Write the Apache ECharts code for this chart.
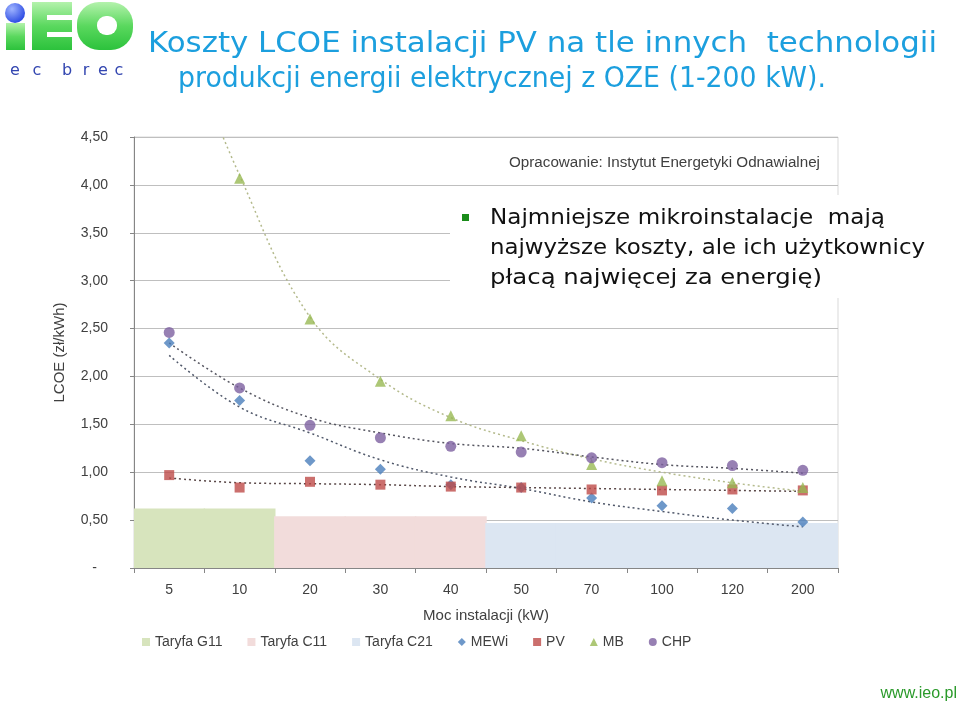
<!DOCTYPE html>
<html><head><meta charset="utf-8">
<script src="https://cdn.jsdelivr.net/npm/echarts@6/dist/echarts.min.js"></script>
<style>html,body{margin:0;padding:0;background:#fff}#c{width:960px;height:706px}</style>
</head><body><div id="c"></div>
<script>
const categories = ['5','10','20','30','40','50','70','100','120','200'];
const tariffG11 = [0.62,0.62,null,null,null,null,null,null,null,null];
const tariffC11 = [null,null,0.54,0.54,0.54,null,null,null,null,null];
const tariffC21 = [null,null,null,null,null,0.47,0.47,0.47,0.47,0.47];
const mewi = [2.35,1.75,1.12,1.03,0.87,0.84,0.73,0.65,0.62,0.48];
const pv   = [0.97,0.84,0.90,0.87,0.85,0.84,0.82,0.81,0.82,0.81];
const mb   = [null,4.07,2.60,1.95,1.59,1.38,1.08,0.91,0.89,0.84];
const chp  = [2.46,1.88,1.49,1.36,1.27,1.21,1.15,1.10,1.07,1.02];
const mewiTrend = [2.22,1.68,1.41,1.13,0.95,0.83,0.69,0.59,0.50,0.43];
const pvTrend   = [0.94,0.89,0.88,0.87,0.85,0.84,0.83,0.82,0.81,0.80];
const mbTrend   = [5.9,4.10,2.62,1.97,1.57,1.33,1.14,1.00,0.89,0.80];
const chpTrend  = [2.35,1.88,1.57,1.41,1.30,1.25,1.16,1.08,1.04,0.99];

const titleLines = ['Koszty LCOE instalacji PV na tle innych  technologii','produkcji energii elektrycznej z OZE (1-200 kW).'];
const bulletLines = ['Najmniejsze mikroinstalacje  mają','najwyższe koszty, ale ich użytkownicy','płacą najwięcej za energię)'];
const sourceText = 'Opracowanie: Instytut Energetyki Odnawialnej';
const logoLetters = ['e','c','b','r','e','c'];
const logoLetterX = [15,37,67,86,103,119];

const ctx = document.createElement('canvas').getContext('2d');
function fitText(text, x, y, font, fill, targetW, z){
  ctx.font = font;
  const w = ctx.measureText(text).width;
  return {type:'text', x:x, y:y, scaleX: targetW / w,
    style:{text:text, font:font, fill:fill, verticalAlign:'middle'}, z:z||100};
}

const chart = echarts.init(document.getElementById('c'));
const F = 'Liberation Sans';
const green = {type:'linear',x:0,y:0,x2:0,y2:1,colorStops:[{offset:0,color:'#b4f2ac'},{offset:0.5,color:'#5ad85e'},{offset:1,color:'#2cc23c'}]};
const graphics = [
  {type:'circle',shape:{cx:15,cy:13,r:10},style:{fill:{type:'radial',x:0.35,y:0.3,r:0.8,colorStops:[{offset:0,color:'#9fb4ff'},{offset:1,color:'#2040e0'}]}},z:100},
  {type:'rect',shape:{x:6,y:23,width:19,height:27},style:{fill:green},z:100},
  {type:'polygon',shape:{points:[[32,2],[72,2],[72,15],[47,15],[47,20],[72,20],[72,32],[47,32],[47,37],[72,37],[72,50],[32,50]]},style:{fill:green},z:100},
  {type:'rect',shape:{x:77,y:2,width:56,height:48,r:22},style:{fill:green},z:100},
  {type:'rect',shape:{x:97,y:16,width:20,height:19,r:9},style:{fill:'#fff'},z:101},
  fitText(titleLines[0],148,45,'28px "DejaVu Sans"','#1c9fde',789),
  fitText(titleLines[1],178,80,'28px "DejaVu Sans"','#1c9fde',648),
  fitText(sourceText,509,163,'14px "Liberation Sans"','#404040',311),
  {type:'rect',shape:{x:450,y:195,width:400,height:103},style:{fill:'#fff'},z:100},
  {type:'rect',shape:{x:462,y:214,width:7,height:7},style:{fill:'#1a8c1a'},z:101},
  {type:'text',x:957,y:694,style:{text:'www.ieo.pl',font:'16px "Liberation Sans"',fill:'#2a9a2a',align:'right',verticalAlign:'middle'},z:100}
];
const bulletW = [395,435,332];
bulletLines.forEach((t,i)=>graphics.push(fitText(t,490,219+i*30,'21px "DejaVu Sans"','#111',bulletW[i],101)));
logoLetters.forEach((t,i)=>graphics.push({type:'text',x:logoLetterX[i],y:71,style:{text:t,font:'16px "DejaVu Sans"',fill:'#3346b0',align:'center',verticalAlign:'middle'},z:100}));

function trend(name,data,color){
  return {name:name+' trend',type:'line',data:data,smooth:0.4,showSymbol:false,symbol:'none',silent:true,
    lineStyle:{type:[2,3],width:1.5,color:color},z:3,clip:true};
}
function tariff(name,data,color,zz){
  return {name:name,type:'bar',stack:'t',barWidth:'102%',data:data,
    itemStyle:{color:color},z:zz};
}

chart.setOption({
  animation:false,
  graphic:graphics,
  grid:{left:134,right:122,top:137,bottom:138,show:true,borderColor:'#d9d9d9',borderWidth:1},
  legend:{left:137,top:630,itemWidth:8,itemHeight:8,itemGap:25,
    textStyle:{fontFamily:F,fontSize:14,color:'#404040'},
    data:[{name:'Taryfa G11',icon:'rect'},{name:'Taryfa C11',icon:'rect'},{name:'Taryfa C21',icon:'rect'},
      {name:'MEWi',icon:'diamond'},{name:'PV',icon:'rect'},{name:'MB',icon:'triangle'},{name:'CHP',icon:'circle'}]},
  xAxis:{type:'category',data:categories,boundaryGap:true,
    name:'Moc instalacji (kW)',nameLocation:'middle',nameGap:40,
    nameTextStyle:{fontFamily:F,fontSize:15,color:'#404040'},
    axisLine:{lineStyle:{color:'#868686'}},
    axisTick:{show:true,length:5,interval:0,lineStyle:{color:'#868686'}},
    axisLabel:{fontFamily:F,fontSize:14,color:'#404040',margin:15},
    splitLine:{show:false}},
  yAxis:{type:'value',min:0,max:4.5,interval:0.5,
    name:'LCOE (zł/kWh)',nameLocation:'middle',nameGap:67,nameRotate:90,
    nameTextStyle:{fontFamily:F,fontSize:15,color:'#404040'},
    axisLine:{show:true,lineStyle:{color:'#868686'}},
    axisTick:{show:true,length:4,lineStyle:{color:'#868686'}},
    axisLabel:{fontFamily:F,fontSize:14,color:'#404040',margin:26,
      formatter:v=>v===0?'{z|-}':v.toFixed(2).replace('.',','),
      rich:{z:{padding:[0,11,0,0],fontFamily:F,fontSize:14,color:'#404040'}}},
    splitLine:{lineStyle:{color:'#bfbfbf'}}},
  series:[
    tariff('Taryfa G11',tariffG11,'#d7e4bd',1),
    tariff('Taryfa C11',tariffC11,'#f2dcdb',1),
    tariff('Taryfa C21',tariffC21,'#dce6f2',1),
    trend('MEWi',mewiTrend,'#50586a'),
    trend('PV',pvTrend,'#5a4848'),
    trend('MB',mbTrend,'#b4ba8c'),
    trend('CHP',chpTrend,'#555560'),
    {name:'MEWi',type:'scatter',data:mewi,symbol:'diamond',symbolSize:11,itemStyle:{color:'#4a7ebb'},z:5},
    {name:'PV',type:'scatter',data:pv,symbol:'rect',symbolSize:10,itemStyle:{color:'#be4b48'},z:5},
    {name:'MB',type:'scatter',data:mb,symbol:'triangle',symbolSize:11,itemStyle:{color:'#98b954'},z:5},
    {name:'CHP',type:'scatter',data:chp,symbol:'circle',symbolSize:11,itemStyle:{color:'#7d60a0'},z:5}
  ]
});
</script></body></html>
